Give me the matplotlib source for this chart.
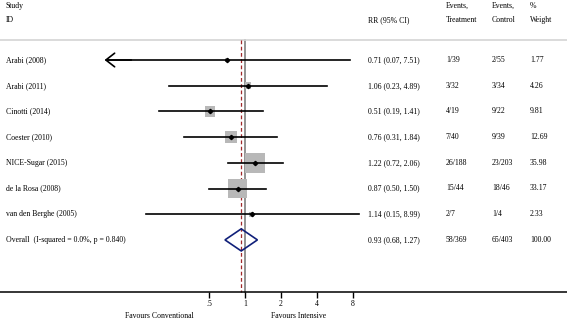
import numpy as np
import matplotlib
matplotlib.use("Agg")
import matplotlib.pyplot as plt
from matplotlib.transforms import blended_transform_factory

plt.rcParams['font.family'] = ['Liberation Serif', 'DejaVu Serif']

studies = ["Arabi (2008)", "Arabi (2011)", "Cinotti (2014)", "Coester (2010)",
           "NICE-Sugar (2015)", "de la Rosa (2008)", "van den Berghe (2005)"]
rr = [0.71, 1.06, 0.51, 0.76, 1.22, 0.87, 1.14]
lo = [0.07, 0.23, 0.19, 0.31, 0.72, 0.50, 0.15]
hi = [7.51, 4.89, 1.41, 1.84, 2.06, 1.50, 8.99]
ev_treat = ["1/39", "3/32", "4/19", "7/40", "26/188", "15/44", "2/7"]
ev_ctrl = ["2/55", "3/34", "9/22", "9/39", "23/203", "18/46", "1/4"]
weight = [1.77, 4.26, 9.81, 12.69, 35.98, 33.17, 2.33]

overall_label = "Overall  (I-squared = 0.0%, p = 0.840)"
overall_rr, overall_lo, overall_hi = 0.93, 0.68, 1.27
overall_treat, overall_ctrl, overall_w = "58/369", "65/403", "100.00"

ticks = [0.5, 1, 2, 4, 8]
tick_labels = [".5", "1", "2", "4", "8"]
clip_lo = 1 / 16

W, H = 567, 320
fig = plt.figure(figsize=(W / 100, H / 100), dpi=100)
ax = fig.add_axes([0, 1 - 292 / H, 1, 292 / H])

# x: px = 245 + 36*log2(v)
ax.set_xscale("log", base=2)
ax.set_xlim(2 ** (-245 / 36), 2 ** ((W - 245) / 36))
row_h = 25.7
ax.set_ylim((292 - 60) / row_h, -60 / row_h)

for s in ["top", "left", "right"]:
    ax.spines[s].set_visible(False)
ax.spines["bottom"].set_linewidth(1.1)
ax.set_yticks([])
ax.set_xticks(ticks)
ax.set_xticklabels(tick_labels)
ax.minorticks_off()
ax.tick_params(axis="x", direction="out", length=4, width=1, labelsize=5.6, pad=1.5)

sep_y = (40 - 60) / row_h
ax.axhline(sep_y, color="#d4d4d4", lw=1.2)
ybot = ax.get_ylim()[0]
ax.plot([1, 1], [sep_y, ybot], color="#808080", lw=1.2, zorder=1)
ax.plot([overall_rr, overall_rr], [sep_y, ybot], color="#a0282a", lw=0.9,
        dashes=(3, 2), zorder=2)

rows = np.arange(len(studies))
ax.scatter(rr, rows, marker="s", s=[5.6 * w for w in weight], color="#b8b8b8",
           edgecolors="none", zorder=3)
for i in rows:
    if lo[i] < 0.1:
        ax.plot([lo[i] * 1.03, hi[i]], [i, i], color="black", lw=1.2, zorder=4)
        ax.annotate("", xy=(clip_lo * 1.07, i), xytext=(lo[i] * 1.6, i),
                    arrowprops=dict(arrowstyle="->,head_length=0.45,head_width=0.35",
                                    lw=1.2, color="black",
                                    mutation_scale=14, shrinkA=0, shrinkB=0),
                    zorder=4)
    else:
        ax.plot([lo[i], hi[i]], [i, i], color="black", lw=1.2, zorder=4)
ax.plot(rr, rows, linestyle="none", marker="D", markersize=2.2, color="black", zorder=5)

oy = len(studies)
ax.fill([overall_lo, overall_rr, overall_hi, overall_rr, overall_lo],
        [oy, oy - 0.43, oy, oy + 0.43, oy], facecolor="none",
        edgecolor="#10207a", lw=1.2, zorder=5)

tr = blended_transform_factory(ax.transAxes, ax.transData)
fs = 5.6
cols = {"id": 6 / W, "rr": 368 / W, "t": 446 / W, "c": 492 / W, "w": 530 / W}

h1 = (6 - 60) / row_h
h2 = (20 - 60) / row_h
ax.text(cols["id"], h1, "Study", transform=tr, fontsize=fs, va="center")
ax.text(cols["id"], h2, "ID", transform=tr, fontsize=fs, va="center")
ax.text(cols["rr"], h2, "RR (95% CI)", transform=tr, fontsize=fs, va="center")
ax.text(cols["t"], h1, "Events,", transform=tr, fontsize=fs, va="center")
ax.text(cols["t"], h2, "Treatment", transform=tr, fontsize=fs, va="center")
ax.text(cols["c"], h1, "Events,", transform=tr, fontsize=fs, va="center")
ax.text(cols["c"], h2, "Control", transform=tr, fontsize=fs, va="center")
ax.text(cols["w"], h1, "%", transform=tr, fontsize=fs, va="center")
ax.text(cols["w"], h2, "Weight", transform=tr, fontsize=fs, va="center")

for i in rows:
    ax.text(cols["id"], i, studies[i], transform=tr, fontsize=fs, va="center")
    ax.text(cols["rr"], i, f"{rr[i]:.2f} ({lo[i]:.2f}, {hi[i]:.2f})", transform=tr,
            fontsize=fs, va="center")
    ax.text(cols["t"], i, ev_treat[i], transform=tr, fontsize=fs, va="center")
    ax.text(cols["c"], i, ev_ctrl[i], transform=tr, fontsize=fs, va="center")
    ax.text(cols["w"], i, f"{weight[i]:.2f}", transform=tr, fontsize=fs, va="center")

ax.text(cols["id"], oy, overall_label, transform=tr, fontsize=fs, va="center")
ax.text(cols["rr"], oy, f"{overall_rr:.2f} ({overall_lo:.2f}, {overall_hi:.2f})",
        transform=tr, fontsize=fs, va="center")
ax.text(cols["t"], oy, overall_treat, transform=tr, fontsize=fs, va="center")
ax.text(cols["c"], oy, overall_ctrl, transform=tr, fontsize=fs, va="center")
ax.text(cols["w"], oy, overall_w, transform=tr, fontsize=fs, va="center")

fig.text(159 / W, 1 - 316 / H, "Favours Conventional", fontsize=fs, ha="center", va="center")
fig.text(299 / W, 1 - 316 / H, "Favours Intensive", fontsize=fs, ha="center", va="center")

for a in ax.get_children():
    if hasattr(a, "set_clip_on"):
        a.set_clip_on(False)

fig.savefig("out.png", dpi=100)
